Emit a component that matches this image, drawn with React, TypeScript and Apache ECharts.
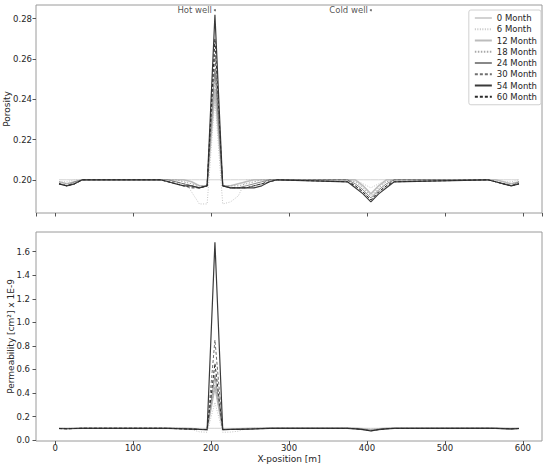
import React, { useEffect, useRef } from "react";
import * as echarts from "echarts";

const X = [5, 15, 25, 35, 135, 145, 155, 165, 175, 185, 195, 205, 215, 225, 235, 245, 255, 265, 275, 285, 375, 385, 395, 405, 415, 425, 435, 555, 565, 575, 585, 595];

const SERIES_NAMES = ["0 Month", "6 Month", "12 Month", "18 Month", "24 Month", "30 Month", "54 Month", "60 Month"];

const POROSITY: number[][] = [
  [0.2, 0.2, 0.2, 0.2, 0.2, 0.2, 0.2, 0.2, 0.2, 0.2, 0.2, 0.2, 0.2, 0.2, 0.2, 0.2, 0.2, 0.2, 0.2, 0.2, 0.2, 0.2, 0.2, 0.2, 0.2, 0.2, 0.2, 0.2, 0.2, 0.2, 0.2, 0.2],
  [0.199, 0.199, 0.2, 0.2, 0.2, 0.2, 0.2, 0.2, 0.194, 0.188, 0.188, 0.24, 0.188, 0.189, 0.192, 0.2, 0.2, 0.2, 0.2, 0.2, 0.2, 0.2, 0.198, 0.196, 0.198, 0.2, 0.2, 0.2, 0.2, 0.199, 0.199, 0.2],
  [0.199, 0.198, 0.199, 0.2, 0.2, 0.2, 0.2, 0.2, 0.199, 0.197, 0.197, 0.245, 0.197, 0.197, 0.198, 0.199, 0.2, 0.2, 0.2, 0.2, 0.2, 0.2, 0.197, 0.193, 0.197, 0.2, 0.2, 0.2, 0.2, 0.199, 0.198, 0.199],
  [0.199, 0.198, 0.199, 0.2, 0.2, 0.2, 0.2, 0.199, 0.198, 0.197, 0.197, 0.253, 0.197, 0.197, 0.197, 0.198, 0.199, 0.2, 0.2, 0.2, 0.2, 0.199, 0.196, 0.192, 0.196, 0.199, 0.2, 0.2, 0.199, 0.198, 0.198, 0.199],
  [0.198, 0.197, 0.199, 0.2, 0.2, 0.2, 0.199, 0.198, 0.197, 0.196, 0.197, 0.255, 0.197, 0.196, 0.196, 0.197, 0.198, 0.199, 0.2, 0.2, 0.2, 0.198, 0.195, 0.191, 0.195, 0.198, 0.2, 0.2, 0.199, 0.198, 0.197, 0.199],
  [0.198, 0.197, 0.198, 0.2, 0.2, 0.199, 0.199, 0.198, 0.197, 0.196, 0.197, 0.262, 0.197, 0.196, 0.196, 0.196, 0.197, 0.198, 0.2, 0.2, 0.2, 0.197, 0.194, 0.19, 0.194, 0.197, 0.2, 0.2, 0.199, 0.198, 0.197, 0.198],
  [0.198, 0.197, 0.198, 0.2, 0.2, 0.199, 0.198, 0.197, 0.197, 0.196, 0.197, 0.282, 0.197, 0.196, 0.196, 0.196, 0.196, 0.197, 0.199, 0.2, 0.199, 0.196, 0.193, 0.189, 0.193, 0.196, 0.199, 0.2, 0.199, 0.198, 0.197, 0.198],
  [0.198, 0.197, 0.198, 0.2, 0.2, 0.199, 0.198, 0.197, 0.196, 0.196, 0.197, 0.27, 0.197, 0.196, 0.196, 0.196, 0.197, 0.198, 0.199, 0.2, 0.199, 0.197, 0.194, 0.19, 0.194, 0.197, 0.199, 0.2, 0.199, 0.198, 0.197, 0.198],
];

const PERMEABILITY: number[][] = [
  [0.1, 0.1, 0.1, 0.1, 0.1, 0.1, 0.1, 0.1, 0.1, 0.1, 0.1, 0.1, 0.1, 0.1, 0.1, 0.1, 0.1, 0.1, 0.1, 0.1, 0.1, 0.1, 0.1, 0.1, 0.1, 0.1, 0.1, 0.1, 0.1, 0.1, 0.1, 0.1],
  [0.1, 0.1, 0.1, 0.1, 0.1, 0.1, 0.1, 0.1, 0.09, 0.07, 0.066, 0.32, 0.066, 0.068, 0.075, 0.1, 0.1, 0.1, 0.1, 0.1, 0.1, 0.1, 0.097, 0.094, 0.097, 0.1, 0.1, 0.1, 0.1, 0.099, 0.099, 0.1],
  [0.099, 0.098, 0.099, 0.1, 0.1, 0.1, 0.1, 0.1, 0.098, 0.092, 0.09, 0.45, 0.09, 0.092, 0.095, 0.098, 0.1, 0.1, 0.1, 0.1, 0.1, 0.1, 0.095, 0.088, 0.095, 0.1, 0.1, 0.1, 0.1, 0.099, 0.098, 0.099],
  [0.099, 0.098, 0.099, 0.1, 0.1, 0.1, 0.1, 0.099, 0.097, 0.092, 0.09, 0.47, 0.09, 0.091, 0.094, 0.097, 0.099, 0.1, 0.1, 0.1, 0.1, 0.099, 0.094, 0.085, 0.094, 0.099, 0.1, 0.1, 0.099, 0.098, 0.097, 0.099],
  [0.098, 0.097, 0.099, 0.1, 0.1, 0.1, 0.099, 0.097, 0.095, 0.091, 0.09, 0.55, 0.09, 0.09, 0.092, 0.095, 0.097, 0.099, 0.1, 0.1, 0.1, 0.098, 0.092, 0.082, 0.092, 0.098, 0.1, 0.1, 0.099, 0.098, 0.096, 0.098],
  [0.098, 0.096, 0.098, 0.1, 0.1, 0.099, 0.098, 0.096, 0.094, 0.09, 0.089, 0.85, 0.089, 0.09, 0.091, 0.093, 0.096, 0.098, 0.1, 0.1, 0.1, 0.097, 0.09, 0.079, 0.09, 0.097, 0.1, 0.1, 0.099, 0.097, 0.095, 0.098],
  [0.098, 0.096, 0.098, 0.1, 0.1, 0.099, 0.097, 0.095, 0.093, 0.09, 0.089, 1.68, 0.089, 0.09, 0.091, 0.092, 0.094, 0.097, 0.099, 0.1, 0.099, 0.095, 0.088, 0.077, 0.088, 0.095, 0.099, 0.1, 0.099, 0.097, 0.095, 0.098],
  [0.098, 0.096, 0.098, 0.1, 0.1, 0.099, 0.097, 0.095, 0.093, 0.09, 0.089, 0.65, 0.089, 0.09, 0.091, 0.093, 0.095, 0.097, 0.099, 0.1, 0.099, 0.096, 0.089, 0.078, 0.089, 0.096, 0.099, 0.1, 0.099, 0.097, 0.095, 0.098],
];

const STYLES = [
  { color: "#d2d2d2", type: "solid" as any, width: 1 },
  { color: "#c4c4c4", type: [1, 1.5] as any, width: 1 },
  { color: "#bcbcbc", type: "solid" as any, width: 1.6 },
  { color: "#a8a8a8", type: [1.5, 1.5] as any, width: 1 },
  { color: "#888888", type: "solid" as any, width: 1 },
  { color: "#707070", type: [3, 2] as any, width: 1 },
  { color: "#3a3a3a", type: "solid" as any, width: 1.2 },
  { color: "#2a2a2a", type: [3, 2] as any, width: 1 },
];

const FONT = "DejaVu Sans";
const TXT = "#262626";

export default function App() {
  const ref = useRef<HTMLDivElement>(null);
  useEffect(() => {
    if (!ref.current) return;
    const chart = echarts.init(ref.current, null, { renderer: "svg" });
    const series: any[] = [];
    SERIES_NAMES.forEach((name, i) => {
      const st = STYLES[i];
      series.push({
        name,
        type: "line",
        xAxisIndex: 0,
        yAxisIndex: 0,
        symbol: "none",
        z: 2 + i,
        lineStyle: { color: st.color, type: st.type, width: st.width },
        itemStyle: { color: st.color },
        data: X.map((x, j) => [x, POROSITY[i][j]]),
      });
      series.push({
        name,
        type: "line",
        xAxisIndex: 1,
        yAxisIndex: 1,
        symbol: "none",
        z: 2 + i,
        lineStyle: { color: st.color, type: st.type, width: st.width },
        itemStyle: { color: st.color },
        data: X.map((x, j) => [x, PERMEABILITY[i][j]]),
      });
    });
    series.push({
      type: "scatter",
      xAxisIndex: 0,
      yAxisIndex: 0,
      symbolSize: 2,
      itemStyle: { color: "#444" },
      silent: true,
      z: 20,
      label: {
        show: true,
        position: "left",
        distance: 2,
        formatter: (p: any) => p.data[2],
        fontFamily: FONT,
        fontSize: 8.5,
        color: TXT,
      },
      data: [
        [205, 0.2842, "Hot well"],
        [405, 0.2842, "Cold well"],
      ],
    });

    const axisLabel = { fontFamily: FONT, fontSize: 8.5, color: TXT };
    const tick = { show: true, inside: false, length: 3.5, lineStyle: { color: "#555" } };
    chart.setOption({
      animation: false,
      backgroundColor: "#fff",
      grid: [
        { left: 36, right: 8, top: 5, height: 208, show: true, borderColor: "#9a9a9a", borderWidth: 1, outerBoundsMode: "none", containLabel: false },
        { left: 36, right: 8, top: 232, height: 209, show: true, borderColor: "#9a9a9a", borderWidth: 1, outerBoundsMode: "none", containLabel: false },
      ],
      legend: {
        data: SERIES_NAMES,
        orient: "vertical",
        right: 9,
        top: 10,
        padding: [3, 4, 3, 5],
        itemGap: 1.25,
        itemWidth: 17,
        itemHeight: 10,
        backgroundColor: "#fff",
        borderColor: "#d0d0d0",
        borderWidth: 1,
        borderRadius: 2,
        itemStyle: { opacity: 0 },
        textStyle: { fontFamily: FONT, fontSize: 8.5, color: TXT, lineHeight: 10, padding: [0, 0, 0, 0] },
      },
      xAxis: [
        {
          type: "value",
          gridIndex: 0,
          min: -24.5,
          max: 624.5,
          splitNumber: 6,
          axisLine: { show: false, onZero: false },
          axisTick: tick,
          axisLabel: { show: false },
          splitLine: { show: false },
        },
        {
          type: "value",
          gridIndex: 1,
          min: -24.5,
          max: 624.5,
          splitNumber: 6,
          name: "X-position [m]",
          nameLocation: "middle",
          nameGap: 13,
          nameMoveOverlap: false,
          nameTextStyle: { fontFamily: FONT, fontSize: 9, color: TXT },
          axisLine: { show: false, onZero: false },
          axisTick: tick,
          axisLabel: { ...axisLabel, margin: 2.5, showMinLabel: false, showMaxLabel: false },
          splitLine: { show: false },
        },
      ],
      yAxis: [
        {
          type: "value",
          gridIndex: 0,
          min: 0.1835,
          max: 0.2868,
          splitNumber: 5,
          name: "Porosity",
          nameLocation: "middle",
          nameGap: 25,
          nameMoveOverlap: false,
          nameTextStyle: { fontFamily: FONT, fontSize: 9, color: TXT },
          axisLine: { show: false, onZero: false },
          axisTick: tick,
          axisLabel: {
            ...axisLabel,
            margin: 4,
            showMinLabel: false,
            showMaxLabel: false,
            formatter: (v: number) => v.toFixed(2),
          },
          splitLine: { show: false },
        },
        {
          type: "value",
          gridIndex: 1,
          min: -0.008,
          max: 1.767,
          splitNumber: 9,
          name: "Permeability [cm\u00B2] x 1E-9",
          nameLocation: "middle",
          nameGap: 21,
          nameMoveOverlap: false,
          nameTextStyle: { fontFamily: FONT, fontSize: 9, color: TXT },
          axisLine: { show: false, onZero: false },
          axisTick: tick,
          axisLabel: {
            ...axisLabel,
            margin: 6,
            showMinLabel: false,
            showMaxLabel: false,
            formatter: (v: number) => v.toFixed(1),
          },
          splitLine: { show: false },
        },
      ],
      series,
    });
    return () => chart.dispose();
  }, []);
  return <div ref={ref} style={{ position: "absolute", left: 0, top: 0, width: 550, height: 467 }} />;
}
